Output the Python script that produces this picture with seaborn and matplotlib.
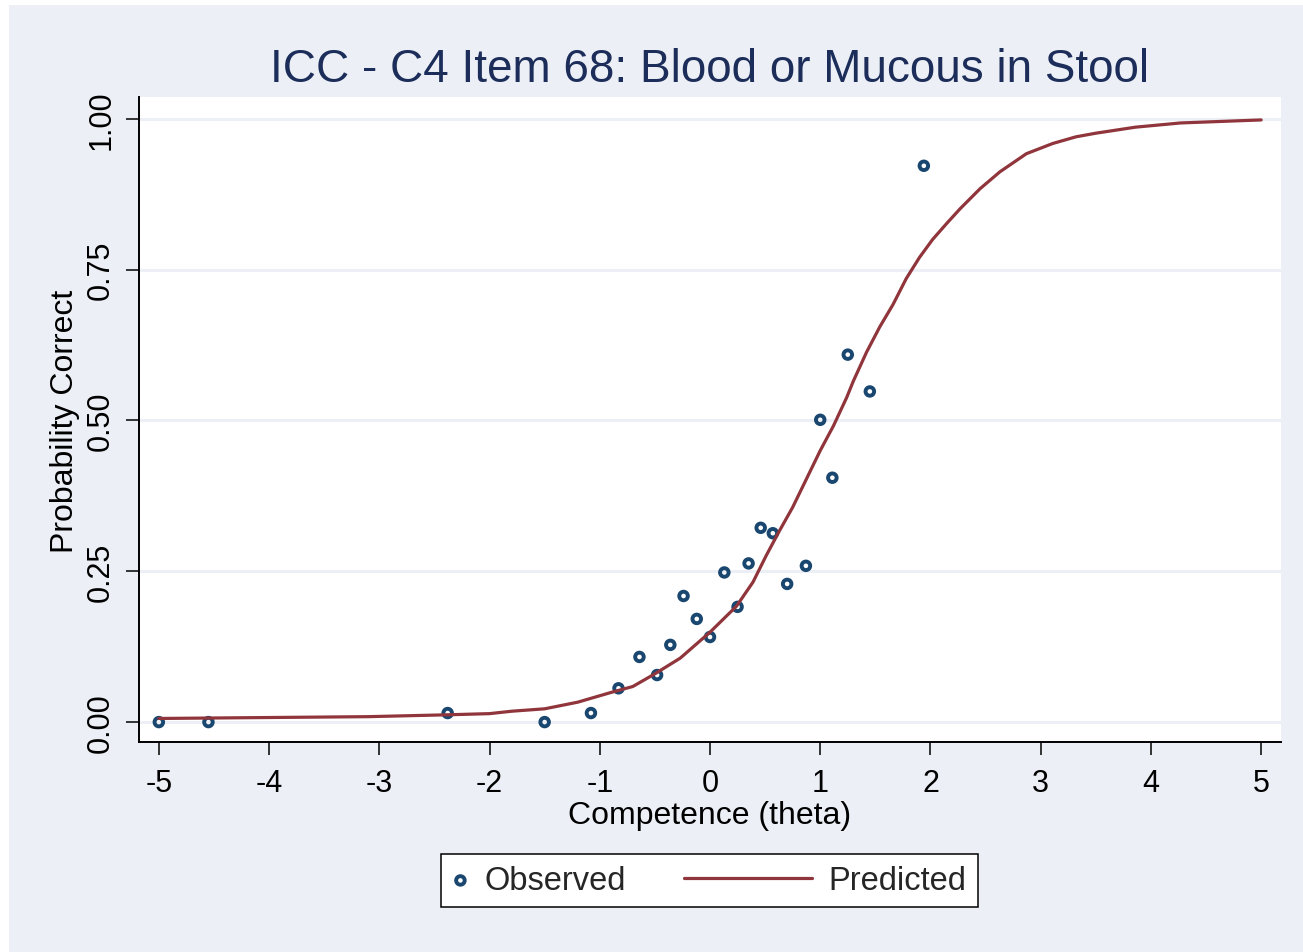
import matplotlib
matplotlib.use("Agg")
import matplotlib.pyplot as plt
import seaborn as sns
from matplotlib.patches import Rectangle
from matplotlib.legend_handler import HandlerLine2D

# observed proportion correct per theta group
obs_theta = [-5.00, -4.55, -2.38, -1.50, -1.08, -0.83, -0.64, -0.48, -0.36, -0.24, -0.12, 0.00,
             0.13, 0.25, 0.35, 0.46, 0.57, 0.70, 0.87, 1.00, 1.11, 1.25, 1.45, 1.94]
obs_prob = [0.000, 0.000, 0.015, 0.000, 0.015, 0.056, 0.108, 0.078, 0.128, 0.209, 0.171, 0.141,
            0.248, 0.191, 0.263, 0.322, 0.313, 0.229, 0.259, 0.501, 0.405, 0.609, 0.548, 0.922]

# predicted ICC
pred_theta = [-5.00, -3.10, -2.40, -2.00, -1.80, -1.50, -1.20, -0.90, -0.70, -0.50, -0.27, 0.00,
              0.24, 0.39, 0.51, 0.63, 0.75, 0.875, 1.00, 1.12, 1.24, 1.30, 1.42, 1.54, 1.66,
              1.78, 1.90, 2.02, 2.15, 2.27, 2.45, 2.63, 2.87, 3.11, 3.32, 3.50, 3.86, 4.27, 5.00]
pred_prob = [0.006, 0.009, 0.012, 0.014, 0.018, 0.022, 0.033, 0.049, 0.059, 0.080, 0.106, 0.149,
             0.192, 0.232, 0.276, 0.317, 0.356, 0.403, 0.450, 0.491, 0.538, 0.565, 0.613, 0.655, 0.692,
             0.735, 0.770, 0.800, 0.827, 0.851, 0.884, 0.912, 0.942, 0.959, 0.970, 0.976, 0.986, 0.993, 0.998]

x_ticks = [-5, -4, -3, -2, -1, 0, 1, 2, 3, 4, 5]
y_ticks = [0.0, 0.25, 0.5, 0.75, 1.0]
y_ticklabels = ["0.00", "0.25", "0.50", "0.75", "1.00"]

title = "ICC - C4 Item 68: Blood or Mucous in Stool"
bg = "#ECF0F6"
navy = "#1A476F"
maroon = "#90353B"

sns.set_theme(style="white")
plt.rcParams['font.family'] = ['Liberation Sans', 'DejaVu Sans']

W, H = 1303, 953
fig = plt.figure(figsize=(W / 100, H / 100), dpi=100)
fig.patch.set_facecolor("white")
fig.add_artist(Rectangle((9 / W, 0), 1 - 9 / W, 1 - 6 / H, transform=fig.transFigure,
                         facecolor=bg, edgecolor="none", zorder=-10))

ax = fig.add_axes([139 / W, 1 - 743 / H, (1281 - 139) / W, (743 - 98) / H])
ax.set_facecolor("white")

sns.scatterplot(x=obs_theta, y=obs_prob, ax=ax, marker="o", s=38, facecolor="none",
                edgecolor=navy, linewidth=2.8, label="Observed", zorder=3)
sns.lineplot(x=pred_theta, y=pred_prob, ax=ax, color=maroon, linewidth=2.3,
             label="Predicted", zorder=4)

ax.set_xlim(-5.18, 5.18)
ax.set_ylim(-0.033, 1.036)
ax.set_xticks(x_ticks)
ax.set_xticklabels([str(t) for t in x_ticks], fontsize=22)
ax.set_yticks(y_ticks)
ax.set_yticklabels(y_ticklabels, fontsize=22, rotation=90, va="center")
ax.tick_params(axis="both", direction="out", length=9.4, width=1.1, color="black",
               labelcolor="black", bottom=True, left=True)
ax.tick_params(axis="x", pad=9.5)
ax.tick_params(axis="y", pad=7)

ax.grid(axis="y", color=bg, linewidth=2.2)
ax.grid(axis="x", visible=False)
for side in ["top", "right"]:
    ax.spines[side].set_visible(False)
for side in ["left", "bottom"]:
    ax.spines[side].set_color("black")
    ax.spines[side].set_linewidth(1.4)

ax.set_xlabel("Competence (theta)", fontsize=23, color="black")
ax.set_ylabel("Probability Correct", fontsize=23, color="black")
ax.xaxis.set_label_coords(0.5, -0.09)
ax.yaxis.set_label_coords(-0.052, 0.498)

fig.text(710 / W, 1 - 82 / H, title, ha="center", va="baseline", fontsize=33, color="#1C2D5A")


class LongLine(HandlerLine2D):
    # stata draws the line key much longer than the marker key
    def create_artists(self, legend, orig_handle, xdescent, ydescent, width, height, fontsize, trans):
        extra = 3.44 * fontsize
        return super().create_artists(legend, orig_handle, xdescent + extra, ydescent,
                                      width + extra, height, fontsize, trans)


handles, labels = ax.get_legend_handles_labels()
ax.get_legend().remove()
line_handle = [h for h, l in zip(handles, labels) if l == "Predicted"][0]
leg = fig.legend(handles, labels, loc="center", bbox_to_anchor=(709.5 / W, 1 - 881.5 / H),
                 ncol=2, fontsize=23.5, handlelength=0.5, handletextpad=0.5, columnspacing=5.2,
                 borderpad=0.35, borderaxespad=0, fancybox=False, framealpha=1,
                 handler_map={line_handle: LongLine()})
leg.get_frame().set_edgecolor("black")
leg.get_frame().set_linewidth(1.1)
leg.get_frame().set_facecolor("white")

plt.savefig("out.png", dpi=100)
